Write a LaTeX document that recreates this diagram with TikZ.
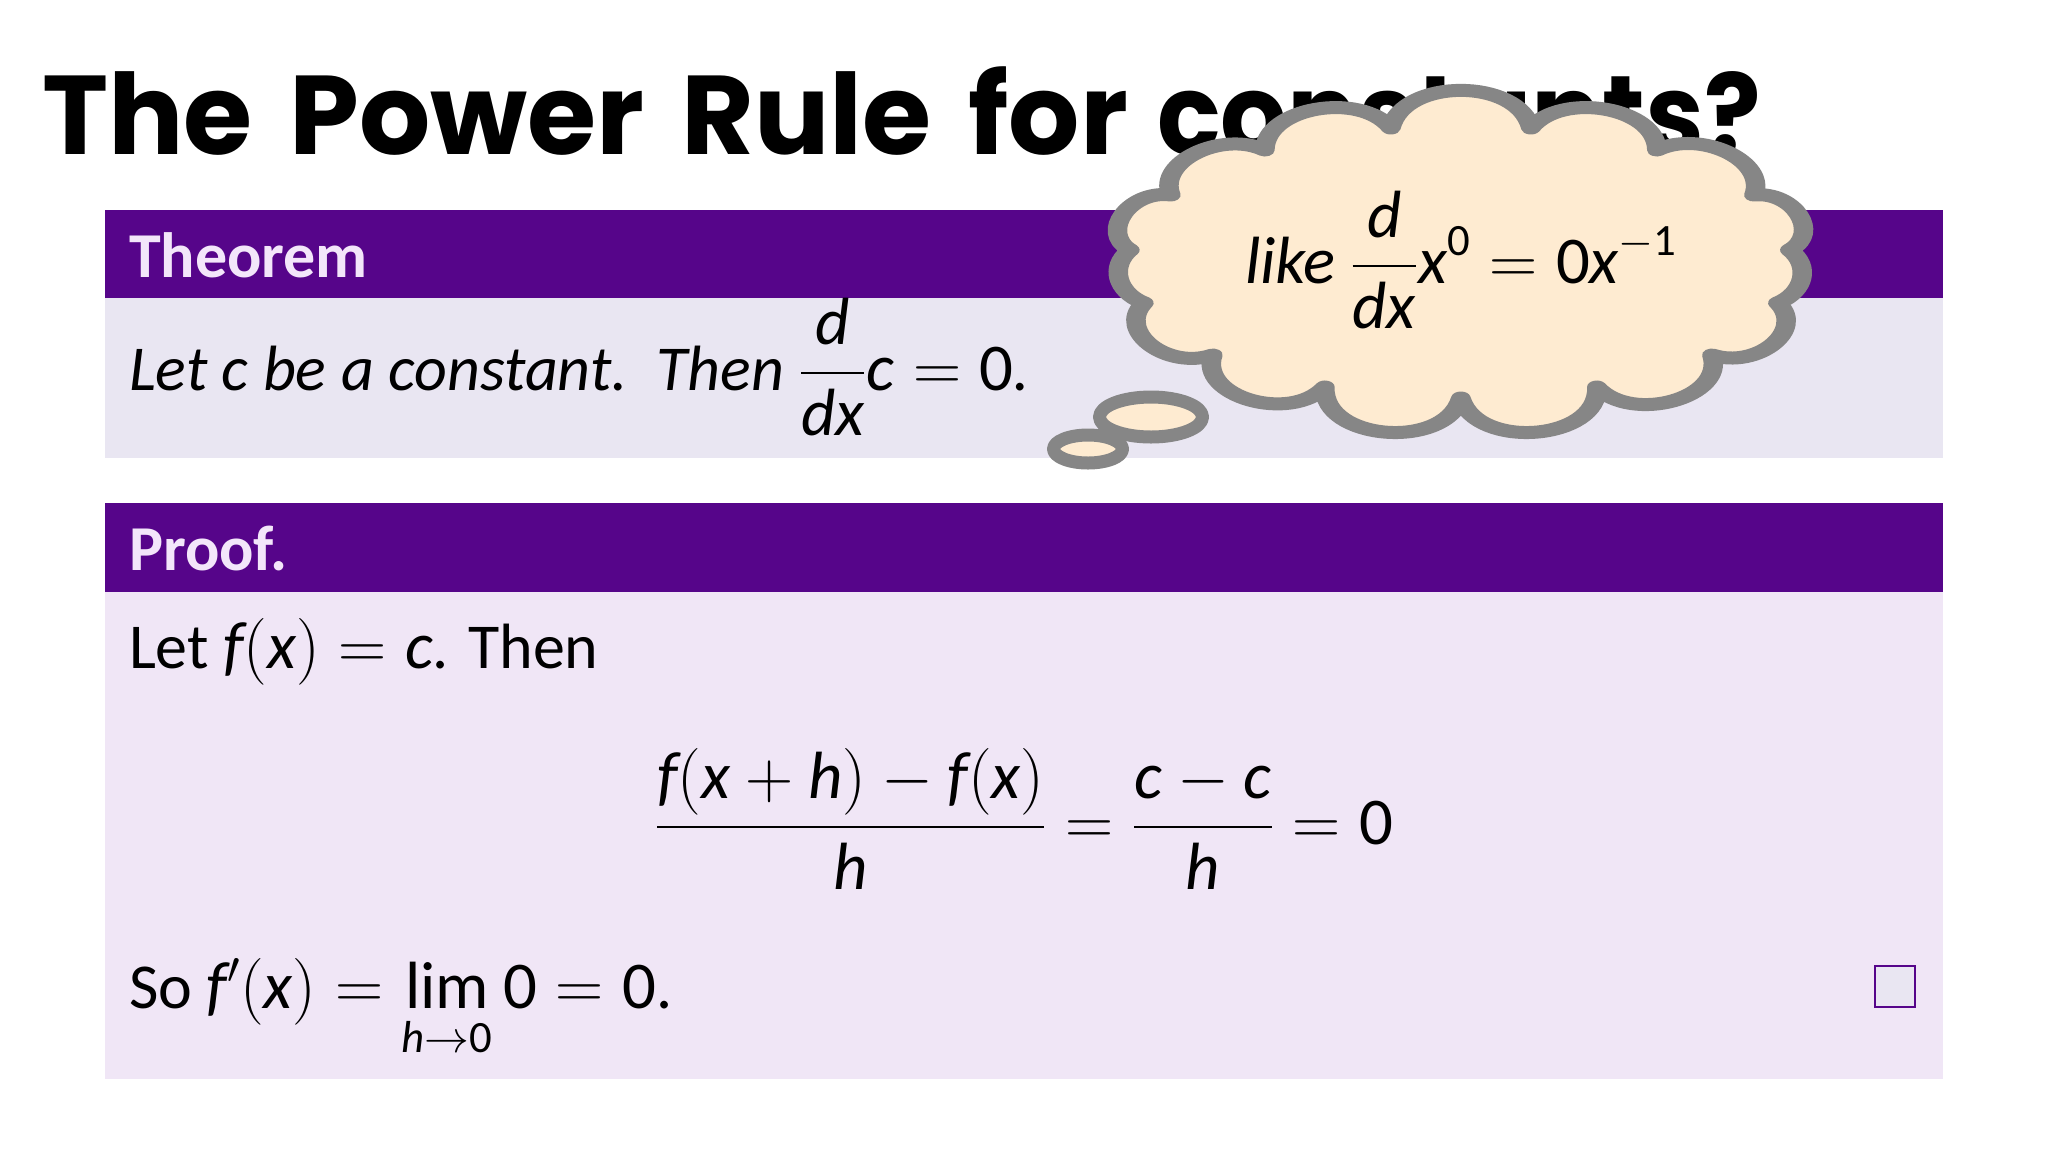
\documentclass[tikz,border=0pt]{standalone}
\usepackage{fix-cm}
\usepackage{amsmath}
\usepackage{fontspec}
\setmainfont{Carlito}
\newfontfamily\titlefont{Poppins}[BoldFont={Poppins Bold}]
\DeclareMathSizes{32}{33.4}{22.4}{16}
\definecolor{barpurple}{HTML}{56058A}
\definecolor{thmpanel}{HTML}{E9E6F2}
\definecolor{prfpanel}{HTML}{F0E6F6}
\definecolor{bartext}{HTML}{F3E6FA}
\definecolor{cloudfill}{HTML}{FEEBD1}
\definecolor{cloudline}{HTML}{868686}
\newcommand{\bigtxt}[1]{\mbox{\fontsize{33.4}{38}\selectfont #1}}
\newcommand{\mv}[1]{\mathchoice{\bigtxt{\itshape #1}}{\bigtxt{\itshape #1}}{\text{\itshape #1}}{\text{\itshape #1}}}
\newcommand{\nm}[1]{\mathchoice{\bigtxt{\upshape #1}}{\bigtxt{\upshape #1}}{\text{\upshape #1}}{\text{\upshape #1}}}
\tikzset{
  txt/.style={anchor=base west,inner sep=0pt,outer sep=0pt,text=black,font=\fontsize{32}{38}\selectfont},
  headline/.style={anchor=base west,inner sep=0pt,outer sep=0pt,font=\fontsize{56}{66}\selectfont\titlefont\bfseries},
  bartitle/.style={anchor=base west,inner sep=0pt,outer sep=0pt,text=bartext,font=\fontsize{32}{38}\selectfont\bfseries},
  cloudstyle/.style={draw=cloudline,fill=cloudfill,line width=6.5pt,line join=round},
  lobeT/.style={bend left=80,looseness=1.4},
  lobeU/.style={bend left=75,looseness=1.25},
  lobeV/.style={bend left=70,looseness=1.15},
  lobeW/.style={bend left=75,looseness=1.15},
  lobeX/.style={bend left=50,looseness=1},
  lobeY/.style={bend left=80,looseness=1.35},
  lobeZ/.style={bend left=85,looseness=1.5}
}
\begin{document}
\begin{tikzpicture}[x=0.5pt,y=-0.5pt]
\useasboundingbox (0,0) rectangle (2048,1152);
\fill[white] (0,0) rectangle (2048,1152);
\node[headline] (title) at (42,154) {The\hspace{6.5pt} Power\hspace{6.5pt} Rule\hspace{6.5pt} for};
\node[headline,xscale=0.94] (titleb) at (1157,154) {constants?};
% theorem block
\fill[thmpanel] (105,298) rectangle (1943,458);
\fill[barpurple] (105,210) rectangle (1943,298);
\node[bartitle] (thmtitle) at (129,277) {Theorem};
\node[txt] (thmbody) at (129,390) {\itshape Let c be a constant.\ \ Then $\displaystyle\frac{\mv{d}}{\mv{dx}}\mv{c}=\nm{0}$.};
% proof block
\fill[prfpanel] (105,592) rectangle (1943,1079);
\fill[barpurple] (105,503) rectangle (1943,592);
\node[bartitle] (prftitle) at (129,570) {Proof.};
\node[txt] (line1) at (129,668) {Let $\mv{f}(\mv{x})=\mv{c}$. Then};
\node[txt] (eqn) at (655,844) {$\displaystyle\frac{\mv{f}(\mv{x}+\mv{h})-\mv{f}(\mv{x})}{\mv{h}}=\frac{\mv{c}-\mv{c}}{\mv{h}}=\nm{0}$};
\node[txt] (line3) at (129,1008) {So $\mv{f}'(\mv{x})=\lim\limits_{\rule{0pt}{18pt}\mv{h}\to\nm{0}}\nm{0}=\nm{0}$.};
\draw[draw=barpurple,line width=1pt,fill=thmpanel] (1875,966) rectangle (1915,1007);
% thought cloud
\draw[cloudstyle] (1088,449) ellipse [x radius=34.5,y radius=14];
\draw[cloudstyle] (1151,417) ellipse [x radius=51.5,y radius=20];
\begin{scope}[transform canvas={xscale=1.5},x=0.3333pt]
\coordinate (A) at (1391,128);
\coordinate (B) at (1531,128);
\coordinate (C) at (1657,150);
\coordinate (D) at (1754,195);
\coordinate (E) at (1790,250);
\coordinate (F) at (1778,303);
\coordinate (G) at (1712,355);
\coordinate (H) at (1597,387);
\coordinate (I) at (1461,398);
\coordinate (J) at (1325,387);
\coordinate (K) at (1213,355);
\coordinate (L) at (1144,303);
\coordinate (M) at (1130,250);
\coordinate (N) at (1171,195);
\coordinate (O) at (1265,150);
\draw[cloudstyle] (A) to[lobeT] (B) to[lobeU] (C) to[lobeV] (D) to[lobeW] (E) to[lobeX] (F) to[lobeU] (G) to[lobeY] (H) to[lobeZ] (I) to[lobeZ] (J) to[lobeY] (K) to[lobeU] (L) to[lobeX] (M) to[lobeW] (N) to[lobeV] (O) to[lobeU] (A) -- cycle;
\end{scope}
\node[txt] (cloudtext) at (1245,283) {$\mv{like}\ \displaystyle\frac{\mv{d}}{\mv{dx}}\mv{x}^{\nm{0}}=\nm{0}\mv{x}^{-\nm{1}}$};
\end{tikzpicture}
\end{document}
